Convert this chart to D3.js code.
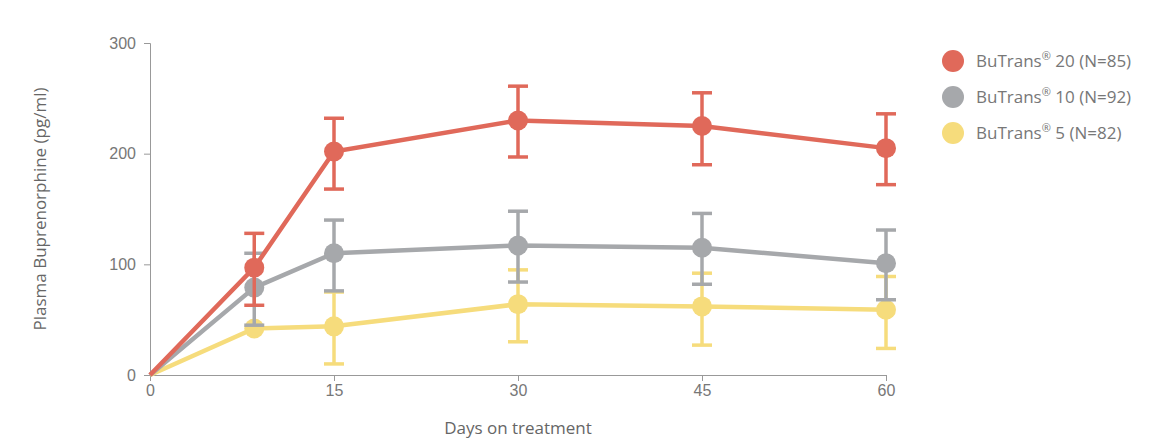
<!DOCTYPE html>
<html>
<head>
<script src="https://d3js.org/d3.v7.min.js"></script>
<style>
  body { margin: 0; background: #fff; font-family: "Open Sans", "Noto Sans", sans-serif; }
  .tick text { fill: #777; font-size: 16px; }
  .axis path, .axis line { stroke: #999; }
</style>
</head>
<body>
<svg id="chart" width="1174" height="442"></svg>
<script>
const days = [0, 8.5, 15, 30, 45, 60];
const xTicks = [0, 15, 30, 45, 60];
const yTicks = [0, 100, 200, 300];

const red = [0, 97, 202, 230, 225, 205];
const redHi = [null, 128, 232, 261, 255, 236];
const redLo = [null, 63, 168, 197, 190, 172];

const gray = [0, 79, 110, 117, 115, 101];
const grayHi = [null, 110, 140, 148, 146, 131];
const grayLo = [null, 45, 76, 84, 82, 68];

const yellow = [0, 42, 44, 64, 62, 59];
const yellowHi = [null, null, 75, 95, 92, 89];
const yellowLo = [null, null, 10, 30, 27, 24];

const series = [
  { name: "BuTrans", dose: " 20 (N=85)", color: "#e0695a", v: red, hi: redHi, lo: redLo },
  { name: "BuTrans", dose: " 10 (N=92)", color: "#a6a8ab", v: gray, hi: grayHi, lo: grayLo },
  { name: "BuTrans", dose: " 5 (N=82)", color: "#f6dc7c", v: yellow, hi: yellowHi, lo: yellowLo }
];

const svg = d3.select("#chart");
const x = d3.scaleLinear().domain([0, 60]).range([150, 886]);
const y = d3.scaleLinear().domain([0, 300]).range([375, 43]);

svg.append("g").attr("class", "axis").attr("transform", "translate(0,375)")
  .call(d3.axisBottom(x).tickValues(xTicks).tickSize(6).tickPadding(4));
svg.append("g").attr("class", "axis").attr("transform", "translate(150,0)")
  .call(d3.axisLeft(y).tickValues(yTicks).tickSize(6).tickPadding(8));

svg.append("text").attr("x", 518).attr("y", 434).attr("text-anchor", "middle")
  .attr("fill", "#666").attr("font-size", 17).text("Days on treatment");
svg.append("text").attr("transform", "translate(46,209) rotate(-90)").attr("text-anchor", "middle")
  .attr("fill", "#666").attr("font-size", 17).text("Plasma Buprenorphine (pg/ml)");

// draw bottom series first so red sits on top
series.slice().reverse().forEach(s => {
  const g = svg.append("g");
  g.append("path").datum(days.map((d, i) => [d, s.v[i]]))
    .attr("fill", "none").attr("stroke", s.color).attr("stroke-width", 4.5)
    .attr("d", d3.line().x(d => x(d[0])).y(d => y(d[1])));
  days.forEach((d, i) => {
    if (s.hi[i] == null) return;
    const cx = x(d);
    g.append("line").attr("x1", cx).attr("x2", cx).attr("y1", y(s.hi[i])).attr("y2", y(s.lo[i]))
      .attr("stroke", s.color).attr("stroke-width", 3.5);
    [s.hi[i], s.lo[i]].forEach(e => g.append("line").attr("x1", cx - 10).attr("x2", cx + 10)
      .attr("y1", y(e)).attr("y2", y(e)).attr("stroke", s.color).attr("stroke-width", 3.5));
  });
  days.forEach((d, i) => {
    if (i === 0) return;
    g.append("circle").attr("cx", x(d)).attr("cy", y(s.v[i])).attr("r", 10).attr("fill", s.color);
  });
});

series.forEach((s, i) => {
  const ly = 61 + i * 36;
  svg.append("circle").attr("cx", 953).attr("cy", ly).attr("r", 11).attr("fill", s.color);
  const t = svg.append("text").attr("x", 976).attr("y", ly + 6).attr("fill", "#777").attr("font-size", 17);
  t.append("tspan").text(s.name);
  t.append("tspan").attr("font-size", 11).attr("dy", -7).text("®");
  t.append("tspan").attr("dy", 7).text(s.dose);
});
</script>
</body>
</html>
